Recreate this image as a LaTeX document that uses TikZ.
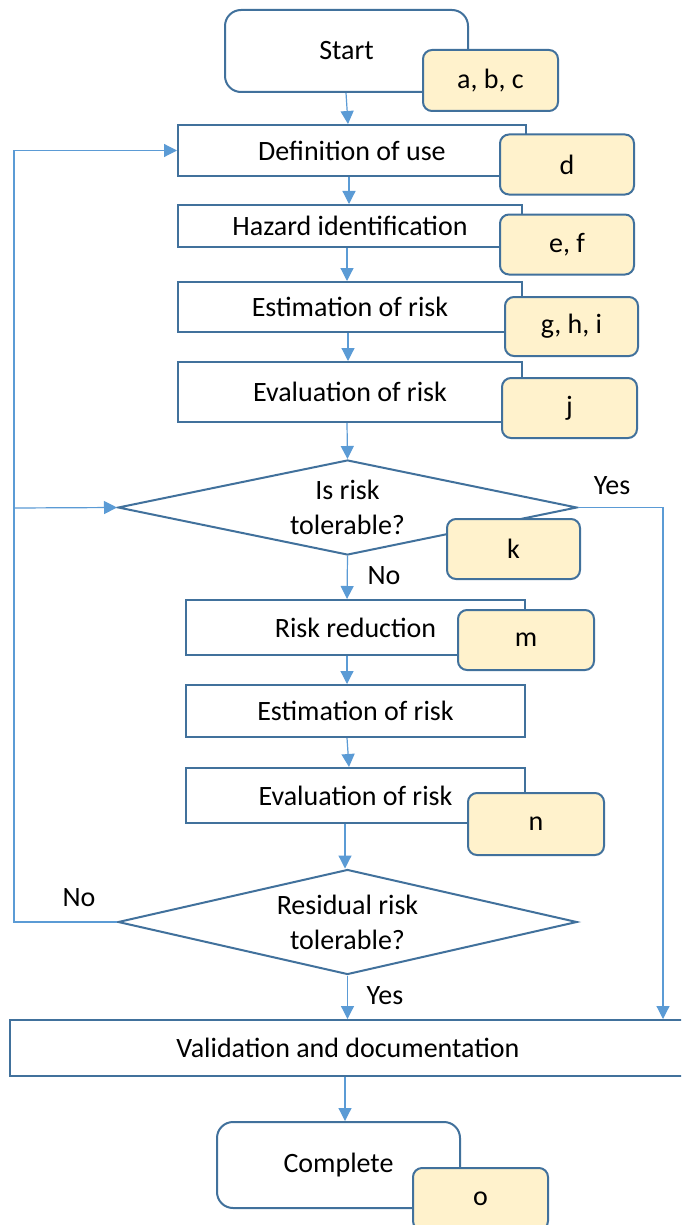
\documentclass[tikz,border=0pt]{standalone}
\usepackage{fontspec}
\setmainfont{Carlito}
\usetikzlibrary{arrows.meta,shapes.geometric}
\definecolor{boxline}{HTML}{41719C}
\definecolor{flowline}{HTML}{5B9BD5}
\definecolor{tagfill}{HTML}{FFF2CC}
\tikzset{
  every node/.style={font=\fontsize{28}{32}\selectfont, text=black},
  proc/.style={draw=boxline, line width=2pt, fill=white, rectangle, inner sep=0pt},
  terminal/.style={proc, rounded corners=16pt},
  tagbox/.style={draw=boxline, line width=2pt, fill=tagfill, rectangle, rounded corners=9pt,
    minimum width=134pt, minimum height=60pt, inner sep=0pt},
  decision/.style={draw=boxline, line width=2pt, fill=white, diamond, inner sep=0pt,
    align=center, font=\fontsize{28}{35}\selectfont},
  flow/.style={draw=flowline, line width=1.2pt, -{Triangle[length=13pt,width=13pt]}},
  plain/.style={draw=flowline, line width=1.2pt},
  lbl/.style={inner sep=0pt}
}
\begin{document}
\begin{tikzpicture}[x=1pt,y=-1pt]
\clip (0,0) rectangle (681,1225);
\fill[white] (0,0) rectangle (681,1225);

% main process steps
\node[terminal, minimum width=243pt, minimum height=82pt] (start) at (346.5,51) {Start};
\node[proc, minimum width=348pt, minimum height=51pt] (def) at (352,150.5) {Definition of use};
\node[proc, minimum width=344pt, minimum height=42pt] (haz) at (350,226) {Hazard identification};
\node[proc, minimum width=344pt, minimum height=50pt] (est) at (350,307) {Estimation of risk};
\node[proc, minimum width=344pt, minimum height=60pt] (eva) at (350,392) {Evaluation of risk};
\node[decision, minimum width=459pt, minimum height=95pt, shape aspect=4.8] (tol) at (347.5,507.5) {Is risk\\tolerable?};
\node[proc, minimum width=339pt, minimum height=55pt] (red) at (355.5,627.5) {Risk reduction};
\node[proc, minimum width=339pt, minimum height=52pt] (est2) at (355.5,711) {Estimation of risk};
\node[proc, minimum width=339pt, minimum height=55pt] (eva2) at (355.5,795.5) {Evaluation of risk};
\node[decision, minimum width=459pt, minimum height=105pt, shape aspect=4.4] (res) at (347.5,922) {Residual risk\\tolerable?};
\node[proc, minimum width=682pt, minimum height=56pt] (val) at (351,1048) {};
\node at (348,1048) {Validation and documentation};
\node[terminal, minimum width=243pt, minimum height=86pt] (done) at (338.5,1165) {Complete};

% main flow
\draw[flow] (start.south -| 346,0) -- (def.north -| 348,0);
\draw[flow] (def.south -| 349,0) -- (haz.north -| 349,0);
\draw[flow] (haz.south -| 347,0) -- (est.north -| 347,0);
\draw[flow] (est.south -| 348,0) -- (eva.north -| 348,0);
\draw[flow] (eva.south -| 347,0) -- (tol.north);
\draw[flow] (tol.south) -- (red.north -| 347,0);
\draw[flow] (red.south -| 347,0) -- (est2.north -| 347,0);
\draw[flow] (est2.south -| 347,0) -- (eva2.north -| 349,0);
\draw[flow] (eva2.south -| 345,0) -- (res.north -| 345,0);
\draw[flow] (res.south) -- (res.south |- val.north);
\draw[flow] (val.south -| 345,0) -- (done.north -| 345,0);

% loop back on the left
\coordinate (lbot) at (14,922);
\coordinate (lmid) at (14,508);
\coordinate (ltop) at (14,150.5);
\draw[plain] (res.west) -- (lbot) -- (ltop);
\draw[flow] (ltop) -- (def.west);
\draw[flow] (lmid) -- (tol.west);

% tolerable branch on the right
\coordinate (yes) at (663,507.5);
\draw[flow] (tol.east) -- (yes) -- (yes |- val.north);

% branch labels
\node[lbl] at (612,486) {Yes};
\node[lbl] at (384,576) {No};
\node[lbl] at (79,898) {No};
\node[lbl] at (385,996) {Yes};

% clause reference tags
\node[tagbox, minimum width=135pt, minimum height=61pt] (t1) at (490.5,80.5) {a, b, c};
\node[tagbox] (t2) at (567,164.5) {d};
\node[tagbox] (t3) at (567,244.5) {e, f};
\node[tagbox, minimum width=133pt, minimum height=59pt] (t4) at (571.5,326.5) {g, h, i};
\node[tagbox, minimum width=135pt] (t5) at (569.5,408) {j};
\node[tagbox, minimum width=133pt] (t6) at (513.5,549) {k};
\node[tagbox, minimum width=136pt] (t7) at (526,640) {m};
\node[tagbox, minimum width=136pt, minimum height=62pt] (t8) at (536,824) {n};
\node[tagbox, minimum width=135pt, minimum height=62pt] (t9) at (480.5,1199) {o};
\end{tikzpicture}
\end{document}
